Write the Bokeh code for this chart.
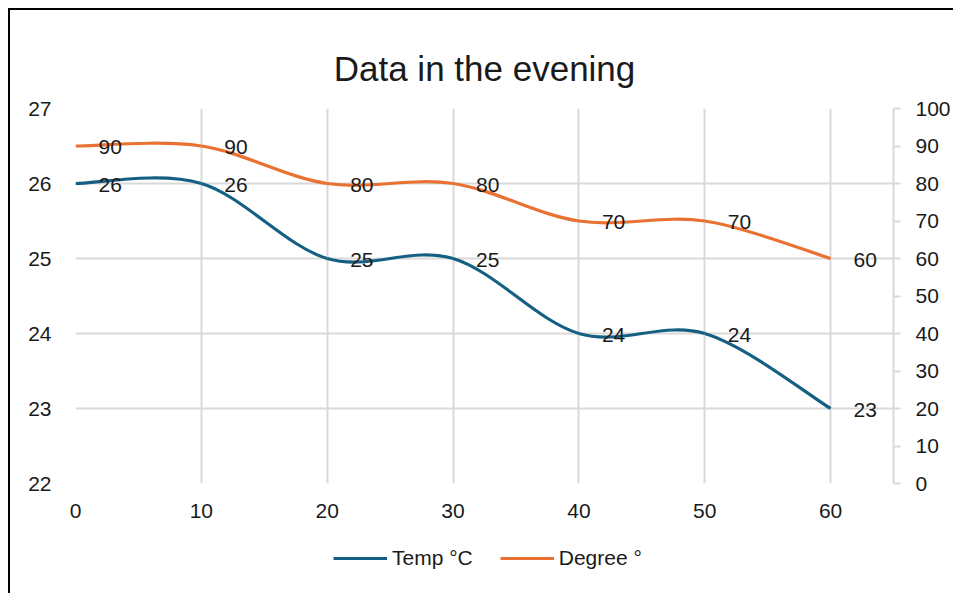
from bokeh.plotting import figure
from bokeh.layouts import column
from bokeh.models import Range1d, LinearAxis, FixedTicker, Legend, LegendItem, ColumnDataSource
from bokeh.core.properties import value
from bokeh.embed import file_html
from bokeh.resources import INLINE

minutes = [0, 10, 20, 30, 40, 50, 60]
temp_c = [26, 26, 25, 25, 24, 24, 23]
degree = [90, 90, 80, 80, 70, 70, 60]
x_ticks = [0, 10, 20, 30, 40, 50, 60]
left_ticks = [22, 23, 24, 25, 26, 27]
right_ticks = [0, 10, 20, 30, 40, 50, 60, 70, 80, 90, 100]
series_names = ["Temp °C", "Degree °"]

TEMP_COLOR = "#156082"
DEG_COLOR = "#E97132"
FONT = "Liberation Sans"
TXT = "#1a1a1a"
GRID = "#d9d9d9"


def bezier_source(xs, ys):
    # Catmull-Rom style smoothing (as a spreadsheet's smoothed line) as cubic Bezier segments
    n = len(xs)
    d = dict(x0=[], y0=[], x1=[], y1=[], cx0=[], cy0=[], cx1=[], cy1=[])
    for i in range(n - 1):
        pm = (xs[max(i - 1, 0)], ys[max(i - 1, 0)])
        p0 = (xs[i], ys[i])
        p1 = (xs[i + 1], ys[i + 1])
        p2 = (xs[min(i + 2, n - 1)], ys[min(i + 2, n - 1)])
        d["x0"].append(p0[0]); d["y0"].append(p0[1])
        d["x1"].append(p1[0]); d["y1"].append(p1[1])
        d["cx0"].append(p0[0] + (p1[0] - pm[0]) / 6.0)
        d["cy0"].append(p0[1] + (p1[1] - pm[1]) / 6.0)
        d["cx1"].append(p1[0] - (p2[0] - p0[0]) / 6.0)
        d["cy1"].append(p1[1] - (p2[1] - p0[1]) / 6.0)
    return ColumnDataSource(d)


p = figure(frame_width=818, frame_height=375, output_backend="svg", toolbar_location=None,
           x_range=Range1d(0, 65), y_range=Range1d(22, 27),
           min_border_left=65, min_border_right=60, min_border_top=98, min_border_bottom=40)
p.outline_line_color = None
p.background_fill_color = "white"
p.border_fill_color = "white"

p.extra_y_ranges = {"deg": Range1d(0, 100)}

p.title.text = "Data in the evening"
p.title.align = "center"
p.title.vertical_align = "top"
p.title.text_font = FONT
p.title.text_font_size = "35px"
p.title.text_font_style = "normal"
p.title.text_color = TXT
p.title.standoff = 38

# axes
xa = p.xaxis[0]
xa.ticker = FixedTicker(ticks=x_ticks)
xa.axis_line_color = None
xa.major_tick_line_color = None
xa.minor_tick_line_color = None
xa.major_label_standoff = 14
xa.major_label_text_font = FONT
xa.major_label_text_font_size = "21px"
xa.major_label_text_color = TXT

ya = p.yaxis[0]
ya.ticker = FixedTicker(ticks=left_ticks)
ya.axis_line_color = None
ya.major_tick_line_color = None
ya.minor_tick_line_color = None
ya.major_label_standoff = 18
ya.major_label_text_font = FONT
ya.major_label_text_font_size = "21px"
ya.major_label_text_color = TXT

ra = LinearAxis(y_range_name="deg", ticker=FixedTicker(ticks=right_ticks))
ra.axis_line_color = GRID
ra.axis_line_width = 2
ra.major_tick_line_color = GRID
ra.major_tick_line_width = 2
ra.major_tick_in = 0
ra.major_tick_out = 7
ra.minor_tick_line_color = None
ra.major_label_standoff = 15
ra.major_label_text_font = FONT
ra.major_label_text_font_size = "21px"
ra.major_label_text_color = TXT
p.add_layout(ra, "right")

p.xgrid.ticker = FixedTicker(ticks=x_ticks)
p.ygrid.ticker = FixedTicker(ticks=left_ticks)
for g in (p.xgrid[0], p.ygrid[0]):
    g.grid_line_color = GRID
    g.grid_line_width = 2

# lines
p.bezier(x0="x0", y0="y0", x1="x1", y1="y1", cx0="cx0", cy0="cy0", cx1="cx1", cy1="cy1",
         source=bezier_source(minutes, temp_c), line_color=TEMP_COLOR, line_width=3.2)
p.bezier(x0="x0", y0="y0", x1="x1", y1="y1", cx0="cx0", cy0="cy0", cx1="cx1", cy1="cy1",
         source=bezier_source(minutes, degree), line_color=DEG_COLOR, line_width=3.2,
         y_range_name="deg")

# data labels
p.text(x=minutes, y=temp_c, text=[str(v) for v in temp_c], x_offset=23, y_offset=1,
       text_align="left", text_baseline="middle", text_font=value(FONT),
       text_font_size="21px", text_color=TXT)
p.text(x=minutes, y=degree, text=[str(v) for v in degree], x_offset=23, y_offset=1,
       text_align="left", text_baseline="middle", text_font=value(FONT),
       text_font_size="21px", text_color=TXT, y_range_name="deg")

# legend strip below the chart (series drawn outside its visible range, used only as legend keys)
pl = figure(width=943, height=70, output_backend="svg", toolbar_location=None,
            x_range=Range1d(0, 1), y_range=Range1d(0, 1),
            x_axis_location=None, y_axis_location=None,
            min_border_left=0, min_border_right=0, min_border_top=0, min_border_bottom=0)
pl.outline_line_color = None
pl.grid.visible = False
pl.background_fill_color = "white"
pl.border_fill_color = "white"
lt = pl.line(x=minutes, y=temp_c, line_color=TEMP_COLOR, line_width=3.2)
ld = pl.line(x=minutes, y=degree, line_color=DEG_COLOR, line_width=3.2)
legend = Legend(items=[LegendItem(label=series_names[0], renderers=[lt]),
                       LegendItem(label=series_names[1], renderers=[ld])],
                orientation="horizontal", location=(258, 23),
                padding=0, margin=0, spacing=27, glyph_width=54, glyph_height=20,
                label_height=20, label_standoff=5,
                label_text_font=FONT, label_text_font_size="21px", label_text_color=TXT,
                border_line_color=None, background_fill_alpha=0)
pl.add_layout(legend, "center")

layout = column(p, pl, spacing=0)
layout.styles = {"border-left": "2px solid black", "border-top": "2px solid black",
                 "margin-left": "8px", "margin-top": "8px"}

open("out.html", "w").write(file_html(layout, INLINE))
